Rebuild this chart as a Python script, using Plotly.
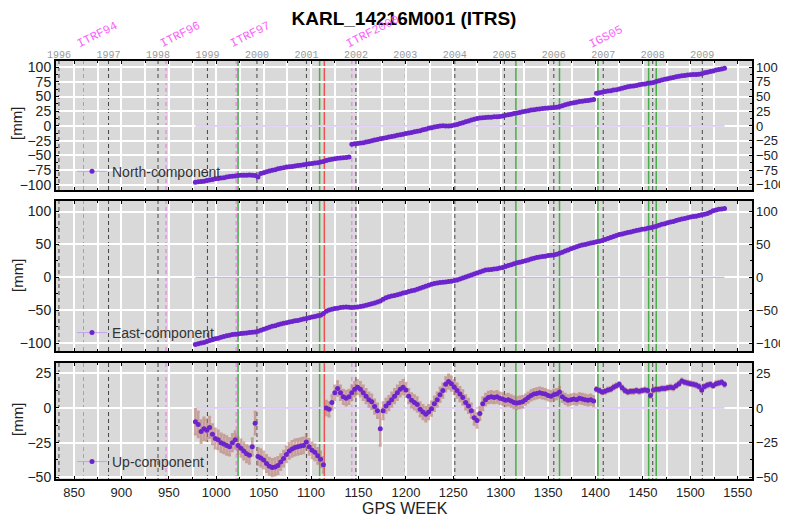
import plotly.graph_objects as go

# ---------------- data ----------------
weeks = list(range(978, 1537, 3))  # GPS weeks of the plotted solutions (every 3rd week)

north = [
    -96, -95, -94.5, -94, -93, -92, -91, -90, -89.5, -88.5,
    -88, -87, -86, -85.5, -85, -84.5, -84, -84, -84, -83.5,
    -84, -84.5, -87, -81, -79.5, -78, -76.5, -75.5, -74.5, -73,
    -72, -71, -70, -69.5, -69, -68, -67.5, -67, -66, -65,
    -64.5, -64, -63, -62.5, -61.5, -60.5, -59, -57.5, -56.5, -56,
    -55, -54.5, -54, -53.5, -53, -31, -30.5, -30, -29, -28.5,
    -27.5, -26.5, -25, -24, -23, -22, -21, -20, -19, -18,
    -17, -16, -15, -14, -13, -12, -11, -10, -9, -8,
    -6.5, -5.5, -4, -3, -2, -1, 0, 0.5, 0, 0,
    0.5, 1.5, 2.5, 4, 5.5, 7, 8.5, 10, 11.5, 12.5,
    13.5, 14, 14.5, 15, 15, 15.5, 15.5, 16, 17, 18,
    19, 20, 21, 22, 23, 24, 25, 26, 27, 27.5,
    28.5, 29, 29.5, 30, 30.5, 31, 31.5, 32, 33, 34.5,
    36, 37.5, 38.5, 39.5, 40.5, 41.5, 42, 43, 43.5, 44,
    45, 55.5, 56.5, 57.5, 58.5, 59.5, 60, 61, 61.5, 63,
    64, 65.5, 66.5, 67.5, 68, 69, 70, 71, 71.5, 72.5,
    73, 74, 75.5, 77, 78, 79.5, 80.5, 81.5, 82.5, 83.5,
    84.5, 85.5, 86, 86.5, 87, 87.5, 87.5, 88, 89, 90.5,
    91.5, 92.5, 93.5, 95, 96, 97, 98,
]

east = [
    -102, -101, -100, -99, -97.5, -96, -95, -93.5, -92.5, -91,
    -90, -89, -88, -87, -86.5, -86, -85.5, -85, -84.5, -84,
    -83.5, -83, -82, -80.5, -79, -77.5, -76, -74.5, -73.5, -72,
    -71, -70, -69, -68, -67, -66, -65.5, -64.5, -63.5, -62.5,
    -61.5, -60.5, -59.5, -58.5, -57.5, -55, -51.5, -49.5, -48.5, -47.5,
    -47, -46, -45.5, -45, -45.5, -46, -45.5, -45, -44.5, -43.5,
    -42.5, -41.5, -40, -39, -37.5, -36, -33.5, -31, -29.5, -28.5,
    -27.5, -26.5, -25.5, -24, -23, -21.5, -20.5, -19.5, -18, -16.5,
    -15, -13.5, -12, -10.5, -9.5, -8.5, -8, -7.5, -7, -6.5,
    -6, -5, -4, -2.5, -1, 0.5, 2, 3.5, 5, 6.5,
    8, 9.5, 11, 11.5, 12, 12.5, 13, 14, 15, 16.5,
    18, 19, 20.5, 22, 23, 24, 25, 26.5, 28, 29,
    30, 31, 31.5, 32, 33, 33.5, 34, 35, 36.5, 38,
    40, 41.5, 43.5, 45, 46.5, 48, 49, 50, 51, 52,
    53, 54, 55, 56, 57.5, 59, 60.5, 62, 63.5, 65,
    66, 67, 68, 69, 70, 71, 72, 73, 73.5, 74.5,
    75.5, 76.5, 77.5, 79, 80.5, 81.5, 83, 84, 85, 86.5,
    87.5, 88.5, 89.5, 90.5, 91.5, 92.5, 93, 94, 95, 96,
    97, 99, 101, 102.5, 103.5, 104, 104.5,
]

up = [
    -10, -12, -17, -15, -16, -14, -19, -22, -23, -25,
    -26, -27, -28, -25, -23, -27, -29, -31, -33, -34,
    -28, -11, -35, -36, -37.5, -40, -42, -43, -42.5, -41.5,
    -39, -36.5, -33.5, -31, -29.5, -28.5, -28, -27.5, -27, -24.5,
    -28, -30.5, -32, -34.5, -37, -41, 0, -1, 4, 11,
    14, 11, 8, 7, 8, 11, 13.5, 15, 13.5, 11,
    8.5, 6, 4.5, 1, -2, -15, -2, 1.5, 3.5, 6,
    8.5, 11, 13.5, 15, 13, 8.5, 5.5, 4, 2.5, -1,
    -3, -4.5, -3, -0.5, 3, 6, 9.5, 12.5, 17, 19,
    17.5, 15, 12.5, 10, 7.5, 4, 1.5, -2, -7, -9,
    -4, 3, 6, 7.5, 8, 7.5, 8, 7, 6.5, 5.5,
    6, 5, 4, 3.5, 4, 4.5, 6, 7.5, 9, 10,
    10.5, 11, 10.5, 10, 9, 8.5, 9.5, 10, 11.5, 8,
    6.5, 5.5, 6, 6.5, 6, 7, 6.5, 6, 5.5, 6,
    5, 13.5, 12.5, 11.5, 12, 13, 13.5, 15, 16, 17,
    14.5, 12.5, 11.5, 12, 12, 12.5, 12, 12.5, 13, 12.5,
    9, 13, 13.5, 13.5, 14, 14, 14.5, 15, 14.5, 16,
    17.5, 19.5, 18.5, 18, 17.5, 17, 16.5, 15.5, 13, 15.5,
    16.5, 17, 16, 17.5, 18, 18.5, 17,
]

up_err = [
    9, 9, 8, 8, 7.5, 7.5, 7, 7, 6.5, 6.5,
    6.5, 6.5, 6, 6, 6, 6, 6, 6, 6, 6,
    6, 8, 6, 6, 6, 6, 6, 6, 6, 6,
    5.5, 5.5, 5.5, 5.5, 5.5, 5.5, 5.5, 5.5, 5.5, 5.5,
    5.5, 5.5, 5.5, 5.5, 5.5, 5.5, 5, 5, 5, 5,
    5, 5, 5, 5, 5, 5, 5, 5, 5, 5,
    5, 5, 5, 5, 5, 12, 6, 5, 5, 5,
    5, 5, 5, 5, 5, 5, 5, 5, 5, 5,
    5, 5, 5, 5, 5, 5, 5, 5, 5, 5,
    5, 5, 5, 5, 5, 5, 5, 5, 5, 5,
    4.5, 4.5, 4, 4, 4, 4, 4, 4, 4, 4,
    4, 4, 4, 4, 4, 4, 3.5, 3.5, 3.5, 3.5,
    3.5, 3.5, 3.5, 3.5, 3.5, 3.5, 3.5, 3.5, 3.5, 3.5,
    3.5, 3.5, 3.5, 3.5, 3.5, 3.5, 3.5, 3.5, 3.5, 3.5,
    3.5, 1.5, 1.5, 1.5, 1.5, 1.5, 1.5, 1.5, 1.5, 1.5,
    1.5, 1.5, 1.5, 1.5, 1.5, 1.5, 1.5, 1.5, 1.5, 1.5,
    1.5, 1.5, 1.5, 1.5, 1.5, 1.5, 1.5, 1.5, 1.5, 1.5,
    1.5, 1.5, 1.5, 1.5, 1.5, 1.5, 1.5, 1.5, 1.5, 1.5,
    1.5, 1.5, 1.5, 1.5, 1.5, 1.5, 1.5,
]

component_names = ["North-component", "East-component", "Up-component"]

year_labels = ["1996", "1997", "1998", "1999", "2000", "2001", "2002",
               "2003", "2004", "2005", "2006", "2007", "2008", "2009"]
year_weeks = [834.1, 886.4, 938.6, 990.7, 1042.9, 1095.1, 1147.3,
              1199.4, 1251.6, 1303.9, 1356.0, 1408.1, 1460.3, 1512.6]

frame_names = ["ITRF94", "ITRF96", "ITRF97", "ITRF2000", "IGS05"]
frame_weeks = [860, 947, 1021, 1143, 1400]

green_weeks = [1023, 1109, 1316, 1362, 1402.5, 1456, 1464]
red_weeks = [1114, 1174.5]

# ---------------- styling / layout ----------------
# the page body keeps the browser's 8px margin, so the figure is laid out
# 8px smaller and every reference pixel position is offset by 8px.
OFF = 8
W, H = 788 - OFF, 516 - OFF
ML, MR, MT, MB = 56 - OFF, 788 - 752, 61 - OFF, 516 - 479
PH = 479 - 61
PW = 752 - 56

def ypaper(px):      # reference pixel row -> paper y
    return (479 - px) / PH

def xpaper(px):      # reference pixel column -> paper x
    return (px - 56) / PW

panels_px = [(61, 190), (201, 351), (363, 479)]
y_ranges = [[-109, 110.5], [-112, 116], [-51.2, 32.4]]
y_dticks = [25, 50, 25]
x_range = [831, 1565]

PURPLE = "rgb(108,36,204)"
LAVENDER = "rgb(196,160,238)"
FONT = "Liberation Sans, Arial, sans-serif"
MONO = "Liberation Mono, DejaVu Sans Mono, monospace"

fig = go.Figure()

series = [north, east, up]
for i in range(3):
    xa = "x" if i == 0 else f"x{i+1}"
    ya = "y" if i == 0 else f"y{i+1}"
    lg = "legend" if i == 0 else f"legend{i+1}"
    fig.add_trace(go.Scatter(
        x=[weeks[0], weeks[-1]], y=[0, 0], mode="lines",
        line=dict(color=LAVENDER, width=1), xaxis=xa, yaxis=ya,
        showlegend=False, hoverinfo="skip"))
    kw = {}
    if i == 2:
        kw["error_y"] = dict(type="data", array=up_err, visible=True,
                             color="rgba(185,120,110,0.6)", thickness=2.5, width=1.5)
    fig.add_trace(go.Scatter(
        x=weeks, y=series[i], mode="markers",
        marker=dict(color=PURPLE, size=5, line=dict(width=0)),
        xaxis=xa, yaxis=ya, showlegend=False, name=component_names[i], **kw))
    fig.add_trace(go.Scatter(
        x=[None], y=[None], mode="lines+markers", name=component_names[i],
        marker=dict(color=PURPLE, size=5), line=dict(color=LAVENDER, width=1),
        xaxis=xa, yaxis=ya, legend=lg, showlegend=True))
    # empty trace so the right-hand label axis is drawn
    fig.add_trace(go.Scatter(x=[None], y=[None], xaxis=xa, yaxis=f"y{i+4}",
                             showlegend=False, hoverinfo="skip"))
# empty trace so the top year axis is drawn
fig.add_trace(go.Scatter(x=[None], y=[None], xaxis="x4", yaxis="y",
                         showlegend=False, hoverinfo="skip"))

shapes = []
for i in range(3):
    xa = "x" if i == 0 else f"x{i+1}"
    ya = "y" if i == 0 else f"y{i+1}"
    y0, y1 = y_ranges[i]
    def vline(w, color, width, dash=None):
        ln = dict(color=color, width=width)
        if dash:
            ln["dash"] = dash
        shapes.append(dict(type="line", xref=xa, yref=ya, x0=w, x1=w, y0=y0, y1=y1,
                           line=ln, layer="below"))
    for w in year_weeks:
        vline(w, "rgb(70,70,70)", 1, "4px,3px")
    for w in frame_weeks:
        vline(w, "rgb(240,110,240)", 1, "4px,3px")
    for w in green_weeks:
        vline(w, "rgb(70,175,70)", 1.5)
    for w in red_weeks:
        vline(w, "rgb(240,80,80)", 1.5)

layout = dict(
    width=W, height=H,
    margin=dict(l=ML, r=MR, t=MT, b=MB, autoexpand=False),
    paper_bgcolor="white", plot_bgcolor="#d9d9d9",
    title=dict(text="<b>KARL_14216M001 (ITRS)</b>", x=(404 - OFF) / W, xanchor="center",
               y=1 - (18 - OFF) / H, yanchor="middle",
               font=dict(family=FONT, size=19, color="black")),
    shapes=shapes,
    showlegend=True,
)

for i in range(3):
    top, bot = panels_px[i]
    dom = [ypaper(bot), ypaper(top)]
    xname = "xaxis" if i == 0 else f"xaxis{i+1}"
    yname = "yaxis" if i == 0 else f"yaxis{i+1}"
    ya = "y" if i == 0 else f"y{i+1}"
    xa = "x" if i == 0 else f"x{i+1}"
    layout[xname] = dict(
        range=x_range, domain=[0, 1], anchor=ya, automargin=False,
        tick0=0, dtick=50, showgrid=True, gridcolor="white", gridwidth=1.5,
        minor=dict(dtick=25, tick0=0, showgrid=True, gridcolor="white", gridwidth=1.5,
                   ticks="inside", ticklen=2, tickcolor="black"),
        ticks="inside", ticklen=3, tickcolor="black",
        showline=True, linecolor="black", linewidth=2, mirror="ticks",
        zeroline=False, showticklabels=(i == 2),
        tickfont=dict(family=FONT, size=13, color="#222"),
    )
    layout[yname] = dict(
        range=y_ranges[i], domain=dom, anchor=xa, automargin=False,
        tick0=0, dtick=y_dticks[i], showgrid=True, gridcolor="white", gridwidth=1.5,
        minor=dict(dtick=y_dticks[i] / 2, ticks="inside", ticklen=2, tickcolor="black"),
        ticks="inside", ticklen=3, tickcolor="black",
        showline=True, linecolor="black", linewidth=2, mirror="ticks",
        zeroline=False, tickfont=dict(family=FONT, size=14, color="#222"),
    )
    layout[f"yaxis{i+4}"] = dict(
        range=y_ranges[i], domain=dom, overlaying=ya, side="right",
        anchor=xa, automargin=False, ticklabelstandoff=3,
        tick0=0, dtick=y_dticks[i], showgrid=False, showline=False, ticks="",
        zeroline=False, tickfont=dict(family=FONT, size=13, color="#222"),
    )
    lg = "legend" if i == 0 else f"legend{i+1}"
    legend_y = [171.7, 333, 462][i]
    layout[lg] = dict(x=xpaper(72), y=ypaper(legend_y), xanchor="left", yanchor="middle",
                      bgcolor="rgba(0,0,0,0)", borderwidth=0,
                      font=dict(family=FONT, size=14, color="#333"))

layout["xaxis4"] = dict(
    range=x_range, overlaying="x", side="top", anchor="y", automargin=False,
    tickmode="array", tickvals=year_weeks, ticktext=year_labels,
    showgrid=False, showline=False, ticks="", zeroline=False,
    tickfont=dict(family=MONO, size=10, color="#999"),
)

annotations = []
for yc in [124, 276, 420]:
    annotations.append(dict(text="[mm]", xref="paper", yref="paper",
                            x=xpaper(17), y=ypaper(yc), xanchor="center", yanchor="middle",
                            textangle=-90, showarrow=False,
                            font=dict(family=FONT, size=15, color="#222")))
annotations.append(dict(text="GPS WEEK", xref="paper", yref="paper",
                        x=xpaper(404.5), y=ypaper(508.5), xanchor="center", yanchor="middle",
                        showarrow=False, font=dict(family=FONT, size=16, color="#222")))
for name, w in zip(frame_names, frame_weeks):
    annotations.append(dict(text=name, xref="x", yref="paper", x=w, y=1,
                            xanchor="left", yanchor="bottom", xshift=-11, yshift=7,
                            textangle=-27, showarrow=False,
                            font=dict(family=MONO, size=12, color="rgb(250,100,250)")))
layout["annotations"] = annotations

fig.update_layout(**layout)
fig.write_html("out.html")
